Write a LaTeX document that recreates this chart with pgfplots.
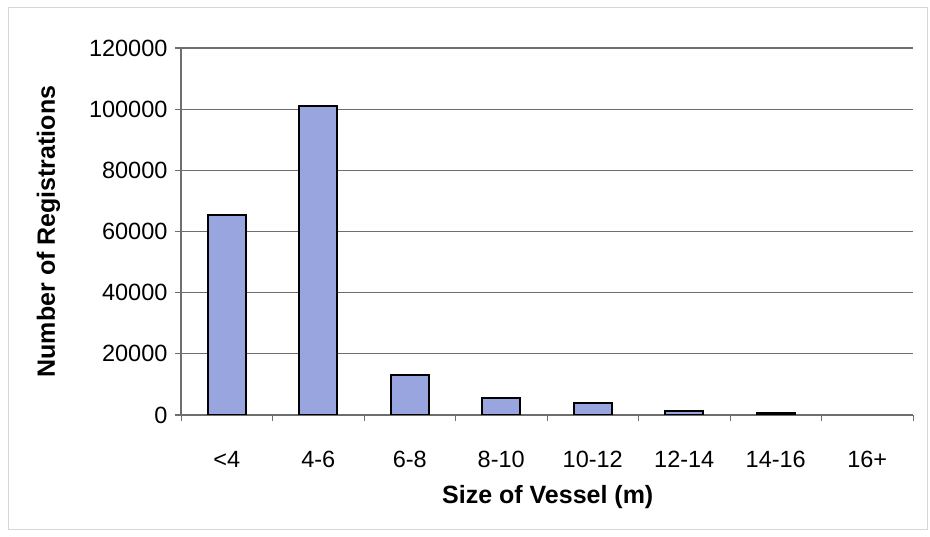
\documentclass[border=0pt]{standalone}
\usepackage{fontspec}
\setmainfont{Liberation Sans}
\usepackage{pgfplots}
\pgfplotsset{compat=1.18}
\definecolor{barfill}{RGB}{153,165,222}
\definecolor{gridgray}{RGB}{110,110,110}
\definecolor{framegray}{RGB}{215,215,215}

\begin{document}
\begin{tikzpicture}[x=1pt,y=1pt]
\useasboundingbox (0,0) rectangle (930,537);
\draw[framegray, line width=1pt] (8,7) rectangle (927,529);
\begin{axis}[
  at={(181pt,122pt)}, anchor=south west,
  scale only axis, width=732pt, height=367pt,
  xmin=-0.5, xmax=7.5, ymin=0, ymax=120000,
  axis lines*=left,
  axis line style={gridgray, line width=1.1pt},
  ymajorgrids,
  grid style={gridgray, line width=1.1pt},
  ytick={0,20000,...,120000},
  scaled y ticks=false,
  yticklabel style={/pgf/number format/fixed, /pgf/number format/1000 sep={},
    font=\fontsize{23.5}{26}\selectfont, xshift=-4pt},
  xtick={0,...,7},
  xticklabels={<4,4-6,6-8,8-10,10-12,12-14,14-16,16+},
  xticklabel style={font=\fontsize{23.5}{26}\selectfont, yshift=-27pt},
  x tick style={draw=none},
  extra x ticks={-0.5,0.5,...,7.5},
  extra x tick labels={},
  extra x tick style={x tick style={draw=gridgray, line width=0.8pt}, major tick length=6pt},
  tick align=outside,
  major tick length=6pt,
  y tick style={gridgray, line width=1.1pt},
  /pgf/number format/assume math mode=true,
  ylabel={\bfseries Number of Registrations},
  ylabel style={at={(axis description cs:-0.181,0.5)}, anchor=center,
    font=\fontsize{25}{28}\selectfont},
  xlabel={\bfseries Size of Vessel (m)},
  xlabel style={at={(axis description cs:0.501,-0.223)}, anchor=center,
    font=\fontsize{25}{28}\selectfont},
  ybar, bar width=38pt, bar shift=0pt,
]
% registrations per length class (16+ too few to show)
\addplot[fill=barfill, draw=black, line width=2pt] coordinates {
  (0,65500) (1,101000) (2,13000) (3,5600) (4,3800) (5,1200) (6,500)
};
\end{axis}
\end{tikzpicture}
\end{document}
